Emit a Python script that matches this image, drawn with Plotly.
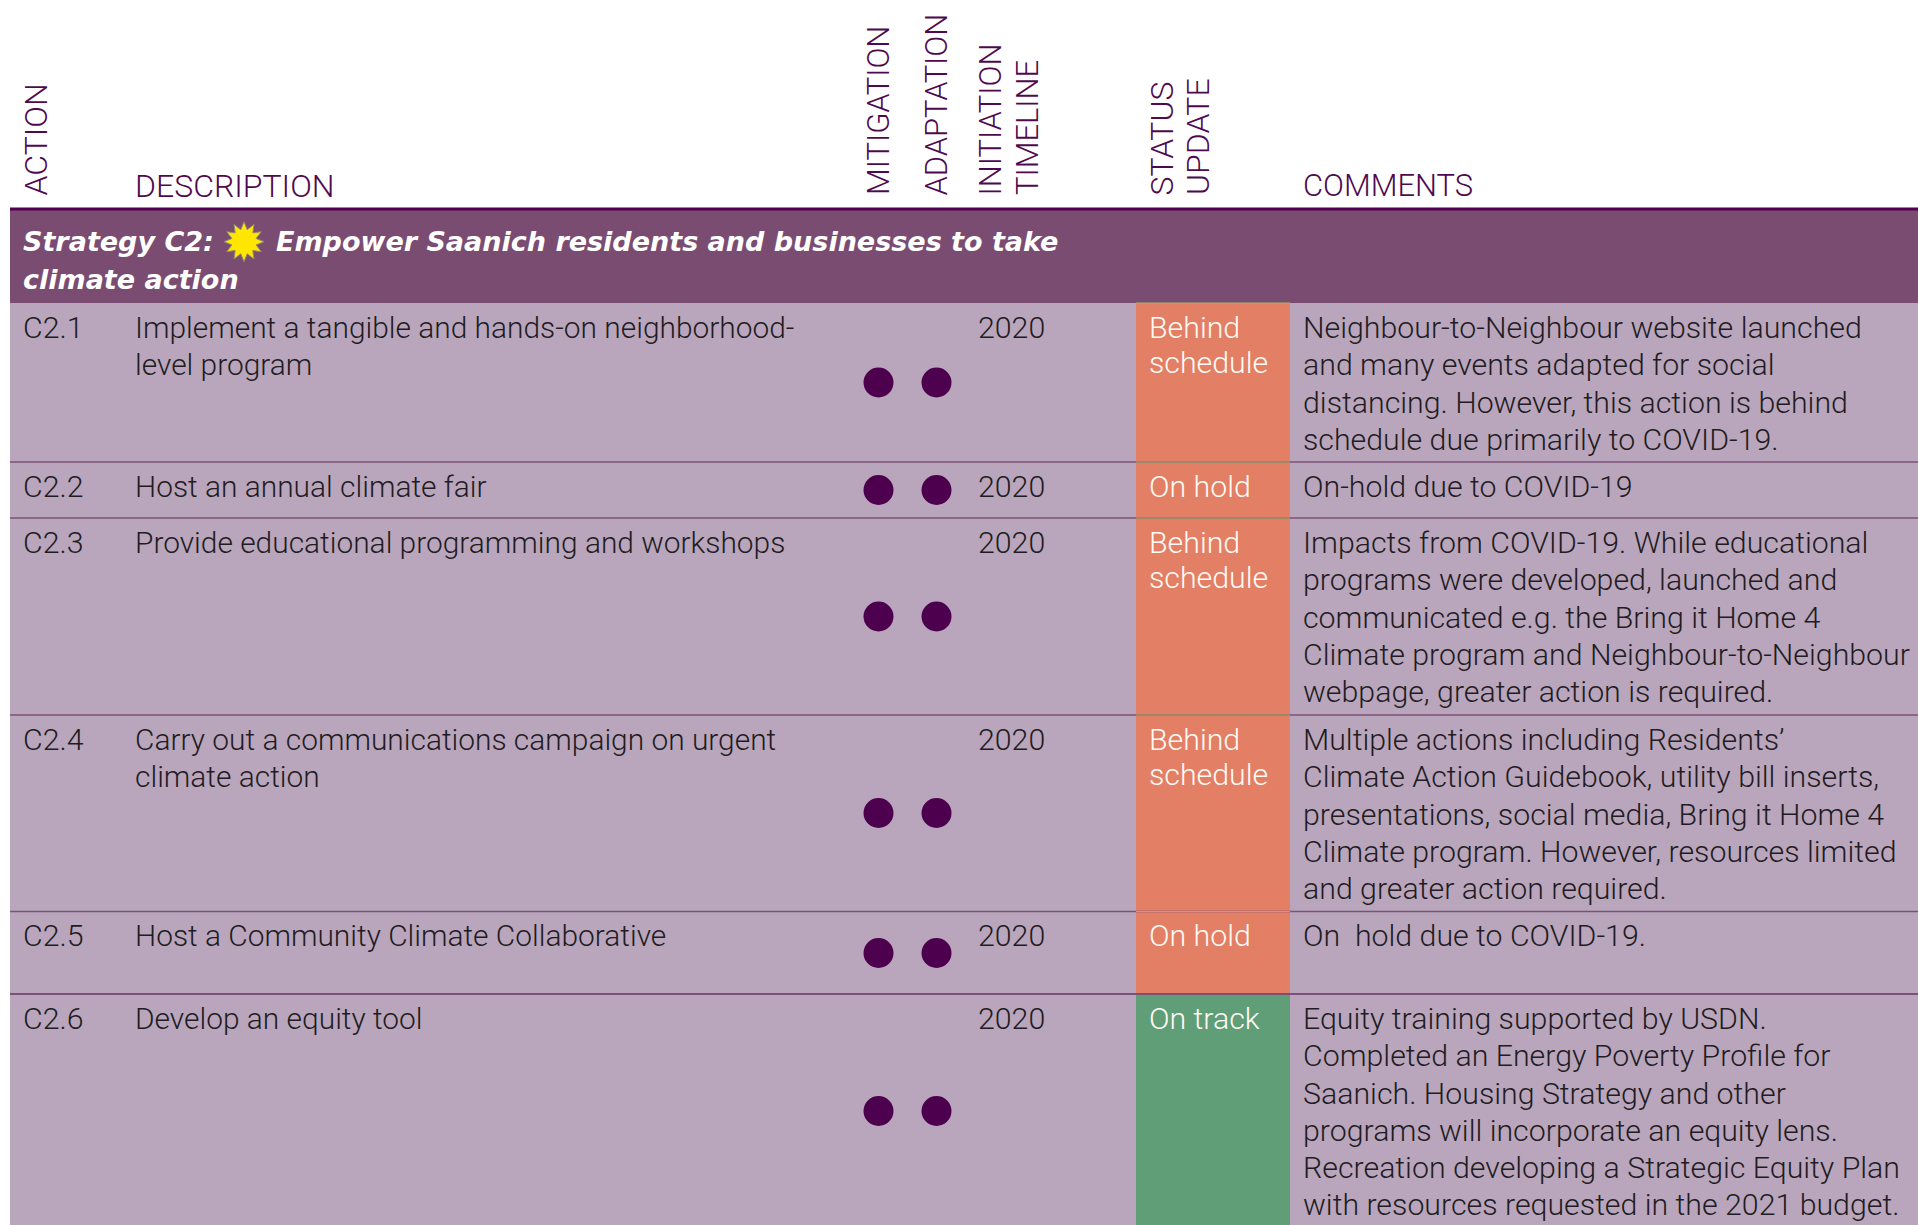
import math
import plotly.graph_objects as go

# ---------- data ----------
action_ids = ["C2.1", "C2.2", "C2.3", "C2.4", "C2.5", "C2.6"]
descriptions = [
    ["Implement a tangible and hands-on neighborhood-", "level program"],
    ["Host an annual climate fair"],
    ["Provide educational programming and workshops"],
    ["Carry out a communications campaign on urgent", "climate action"],
    ["Host a Community Climate Collaborative"],
    ["Develop an equity tool"],
]
mitigation = [True, True, True, True, True, True]
adaptation = [True, True, True, True, True, True]
timeline = ["2020", "2020", "2020", "2020", "2020", "2020"]
status = [
    ["Behind", "schedule"], ["On hold"], ["Behind", "schedule"],
    ["Behind", "schedule"], ["On hold"], ["On track"],
]
comments = [
    ["Neighbour-to-Neighbour website launched", "and many events adapted for social",
     "distancing. However, this action is behind", "schedule due primarily to COVID-19."],
    ["On-hold due to COVID-19"],
    ["Impacts from COVID-19. While educational", "programs were developed, launched and",
     "communicated e.g. the Bring it Home 4", "Climate program and Neighbour-to-Neighbour",
     "webpage, greater action is required."],
    ["Multiple actions including Residents’", "Climate Action Guidebook, utility bill inserts,",
     "presentations, social media, Bring it Home 4", "Climate program. However, resources limited",
     "and greater action required."],
    ["On \u00a0hold due to COVID-19."],
    ["Equity training supported by USDN.", "Completed an Energy Poverty Profile for",
     "Saanich. Housing Strategy and other", "programs will incorporate an equity lens.",
     "Recreation developing a Strategic Equity Plan", "with resources requested in the 2021 budget."],
]
strategy_label = "Strategy C2:"
strategy_line1 = "Empower Saanich residents and businesses to take"
strategy_line2 = "climate action"

# ---------- layout & style ----------
W, H = 1918, 1225
LEFT = 10
row_edges = [303, 462, 518, 715, 911.5, 994, 1225]
dot_y = [382.5, 490, 616.5, 813, 953, 1111]
DOT_X = (878.5, 936.5)
STATUS_X = (1136, 1290)
TXT_X = dict(action=21.5, desc=133.5, year=976.5, status=1147.5, comment=1301.5)
status_fill = {"Behind schedule": "#E27F64", "On hold": "#E27F64", "On track": "#5F9E76"}

INK = "#221c22"
HEAD = "#4F0A4F"
LIGHT = "Roboto"
FS = 30.3
DS = 29.9
HS = 32
HS2 = 30.9

fig = go.Figure()
shapes, ann = [], []


def rect(x0, y0, x1, y1, color):
    shapes.append(dict(type="rect", x0=x0, y0=y0, x1=x1, y1=y1, fillcolor=color,
                       line_width=0, layer="below"))


def hline(x0, x1, y, color, w):
    shapes.append(dict(type="line", x0=x0, x1=x1, y0=y, y1=y,
                       line=dict(color=color, width=w), layer="below"))


def text(x, y, s, color=INK, size=FS, **kw):
    font = dict(family=LIGHT, size=size, color=color, weight=300)
    font.update(kw.pop("font", {}))
    ann.append(dict(x=x, y=y, text=s, showarrow=False, xanchor=kw.pop("xanchor", "left"),
                    yanchor=kw.pop("yanchor", "middle"), font=font, borderpad=0, **kw))


def vtext(x, s, size=HS):
    text(x, 196.5, s, color=HEAD, size=size, xanchor="center", yanchor="bottom", textangle=-90)


# backgrounds
rect(LEFT, 210, W, 303, "#7A4C72")
rect(LEFT, 303, W, H, "#B9A6BC")
hline(LEFT, W, 209, "#50004F", 3)

for i, rid in enumerate(action_ids):
    top, bottom = row_edges[i], row_edges[i + 1]
    key = " ".join(status[i])
    rect(STATUS_X[0], top, STATUS_X[1], bottom, status_fill[key])
    if i > 0:
        hline(LEFT, W, top, "#7E5079", 2 if i == 5 else 1.3)
    if i < 5:
        shapes.append(dict(type="line", x0=STATUS_X[0], x1=STATUS_X[1], y0=top, y1=top,
                           line=dict(color="#A9B060", width=1.2), layer="below"))
    y0 = top + 24.4
    text(TXT_X["action"], y0, rid)
    for j, s in enumerate(descriptions[i]):
        text(TXT_X["desc"], y0 + j * 37.3, s, size=DS)
    text(TXT_X["year"], y0, timeline[i])
    for j, s in enumerate(status[i]):
        text(TXT_X["status"], y0 + j * 35.3, s, color="#FFFAF5")
    for j, s in enumerate(comments[i]):
        text(TXT_X["comment"], y0 + j * 37.3, s)

# dots
fig.add_trace(go.Scatter(
    x=[DOT_X[0] for m in mitigation if m] + [DOT_X[1] for a in adaptation if a],
    y=[y for y, m in zip(dot_y, mitigation) if m] + [y for y, a in zip(dot_y, adaptation) if a],
    mode="markers", marker=dict(size=30, color="#4D004D", line_width=0),
    hoverinfo="skip", showlegend=False))

# burst
CX, CY, RO, RI, N = 244, 241.7, 20, 12.5, 12
pts = []
for k in range(2 * N):
    r = RO if k % 2 == 0 else RI
    a = math.pi * k / N - math.pi / 2
    pts.append(f"{CX + r * math.cos(a):.2f} {CY + r * math.sin(a):.2f}")
shapes.append(dict(type="path", path="M" + " L".join(pts) + " Z", fillcolor="#FFE600",
                   line=dict(color="#8f8a70", width=1), layer="above"))

# headers
vtext(35, "ACTION")
text(133.5, 185.5, "DESCRIPTION", color=HEAD, size=HS)
vtext(878, "MITIGATION", HS2)
vtext(936, "ADAPTATION", HS2)
vtext(990, "INITIATION", HS2)
vtext(1027, "TIMELINE", HS2)
vtext(1161, "STATUS")
vtext(1198, "UPDATE")
text(1301.5, 185.5, "COMMENTS", color=HEAD, size=HS2)

# strategy band
bold = dict(family="DejaVu Sans", weight=700, style="italic")
BS = 27
text(22, 241.6, strategy_label, color="#ffffff", size=BS, font=bold)
text(274.5, 241.6, strategy_line1, color="#ffffff", size=BS, font=bold)
text(22, 279, strategy_line2, color="#ffffff", size=BS, font=bold)

axis = dict(visible=False, fixedrange=True)
fig.update_layout(
    width=W, height=H, margin=dict(l=0, r=0, t=0, b=0),
    paper_bgcolor="#ffffff", plot_bgcolor="#ffffff", showlegend=False,
    xaxis=dict(range=[0, W], **axis), yaxis=dict(range=[H, 0], **axis),
    shapes=shapes, annotations=ann)

fig.write_html("out.html", config=dict(displayModeBar=False),
               post_script="document.body.style.margin='0';document.documentElement.style.overflow='hidden';")
